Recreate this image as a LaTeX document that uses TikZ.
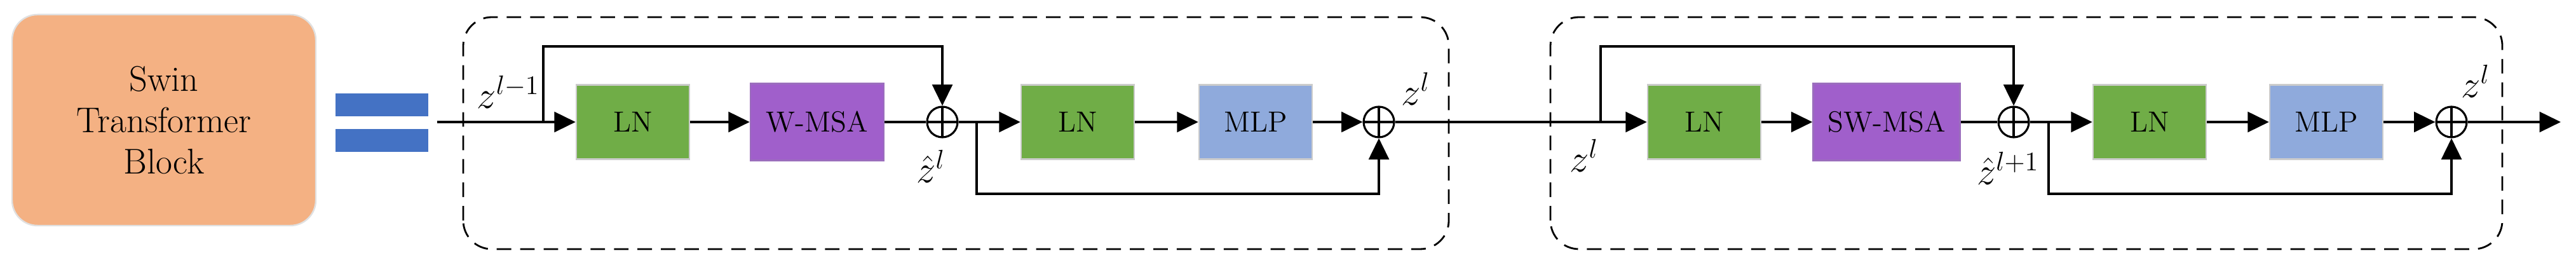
\documentclass[tikz,border=0pt]{standalone}
\usetikzlibrary{arrows.meta}
\definecolor{swinorange}{HTML}{F4B183}
\definecolor{lngreen}{HTML}{70AD47}
\definecolor{msapurple}{HTML}{A05FCB}
\definecolor{msaborder}{HTML}{7030A0}
\definecolor{mlpblue}{HTML}{8FAADC}
\definecolor{eqblue}{HTML}{4472C4}
\begin{document}
\begin{tikzpicture}[->, >={Triangle[length=9.5pt, width=9pt]}, line width=1.1pt]
	\tikzset{
	    blk/.style= {draw=black!20, line width=0.7pt, minimum width=1.78cm, minimum height=1.17cm, inner sep=0pt, font=\fontsize{13}{15}\selectfont},
	    lnblk/.style= {blk, fill=lngreen},
	    msablk/.style= {blk, fill=msapurple, draw=msaborder!70, minimum height=1.21cm},
	    mlpblk/.style= {blk, fill=mlpblue},
	    adder/.style= {circle, draw, line width=0.9pt, minimum size=0.48cm, inner sep=0pt,
	        path picture={\draw[-, line width=0.9pt] (path picture bounding box.north) -- (path picture bounding box.south)
	        (path picture bounding box.west) -- (path picture bounding box.east);}},
	    lbl/.style= {inner sep=0pt, font=\fontsize{17}{20}\selectfont},
	    group/.style= {-, dashed, line width=0.8pt, dash pattern=on 6.5pt off 4pt, rounded corners=0.45cm},
	}
	\useasboundingbox (0, 0) rectangle (40.54, 4.17);
	
	% left part
	\node[fill=swinorange, draw=black!12, line width=0.7pt, rounded corners=0.4cm, minimum width=4.78cm, minimum height=3.32cm,
	    align=center, font=\fontsize{16}{18.5}\selectfont] (swin) at (2.58, 2.28) {Swin\\Transformer\\Block};
	\fill[-, eqblue] (5.28, 2.34) rectangle (6.74, 2.70);
	\fill[-, eqblue] (5.28, 1.78) rectangle (6.74, 2.14);
	
	\draw[group] (7.29, 0.25) rectangle (22.80, 3.90);
	\draw[group] (24.40, 0.25) rectangle (39.38, 3.90);
	
	% blocks
	\node[lnblk] (ln1) at (9.96, 2.25) {LN};
	\node[msablk, minimum width=2.10cm] (wmsa) at (12.86, 2.25) {W-MSA};
	\node[adder] (add1) at (14.83, 2.25) {};
	\node[lnblk] (ln2) at (16.96, 2.25) {LN};
	\node[mlpblk] (mlp1) at (19.76, 2.25) {MLP};
	\node[adder] (add2) at (21.70, 2.25) {};
	
	\node[lnblk] (ln3) at (26.82, 2.25) {LN};
	\node[msablk, minimum width=2.31cm] (swmsa) at (29.69, 2.25) {SW-MSA};
	\node[adder] (add3) at (31.69, 2.25) {};
	\node[lnblk] (ln4) at (33.83, 2.25) {LN};
	\node[mlpblk] (mlp2) at (36.61, 2.25) {MLP};
	\node[adder] (add4) at (38.58, 2.25) {};
	
	\coordinate (in) at (6.88, 2.25);
	\coordinate (b1) at (8.55, 2.25);
	\coordinate (b2) at (15.37, 2.25);
	\coordinate (b3) at (25.19, 2.25);
	\coordinate (b4) at (32.24, 2.25);
	\coordinate (out) at (40.30, 2.25);
	\coordinate (top) at (0, 3.44);
	\coordinate (bot) at (0, 1.12);
	
	% labels
	\node[lbl] (zin) at (8.00, 2.72) {$z^{l-1}$};
	\node[lbl] (zhat1) at (14.65, 1.55) {$\hat{z}^{l}$};
	\node[lbl] (zmid) at (22.28, 2.77) {$z^{l}$};
	\node[lbl] (zin2) at (24.93, 1.72) {$z^{l}$};
	\node[lbl] (zhat2) at (31.60, 1.52) {$\hat{z}^{l+1}$};
	\node[lbl] (zout) at (38.96, 2.89) {$z^{l}$};
	
	\draw[-] (wmsa) -- (add1);
	\draw[-] (add2) -- (b3);
	\draw[-] (swmsa) -- (add3);
	\draw (in) -- (ln1);
	\draw (ln1) -- (wmsa);
	\draw (add1) -- (ln2);
	\draw (ln2) -- (mlp1);
	\draw (mlp1) -- (add2);
	\draw (b3) -- (ln3);
	\draw (ln3) -- (swmsa);
	\draw (add3) -- (ln4);
	\draw (ln4) -- (mlp2);
	\draw (mlp2) -- (add4);
	\draw (add4) -- (out);
	
	% shortcuts
	\draw (b1) -- (b1 |- top) -| (add1.north);
	\draw (b2) -- (b2 |- bot) -| (add2.south);
	\draw (b3) -- (b3 |- top) -| (add3.north);
	\draw (b4) -- (b4 |- bot) -| (add4.south);
\end{tikzpicture}
\end{document}
